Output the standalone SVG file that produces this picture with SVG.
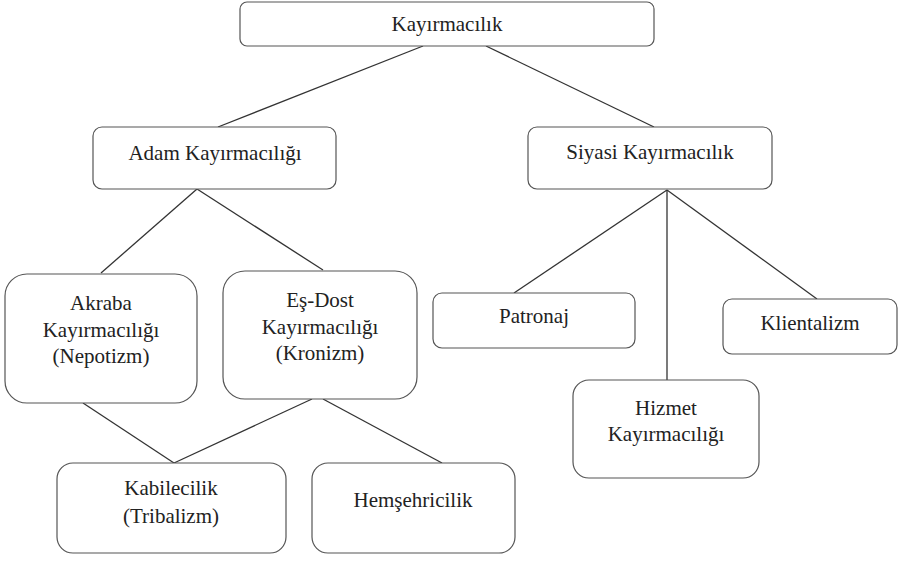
<svg xmlns="http://www.w3.org/2000/svg" width="898" height="561" viewBox="0 0 898 561">
<style>
.box{fill:#fff;stroke:#555;stroke-width:1.2}
.c line{stroke:#333;stroke-width:1.3}
</style>
<rect width="898" height="561" fill="#fff"/>
<g class="c" id="connectors">
<line x1="423" y1="46" x2="218" y2="127"/>
<line x1="486" y1="46" x2="654" y2="127"/>
<line x1="197" y1="189" x2="101" y2="273"/>
<line x1="197" y1="189" x2="323" y2="270"/>
<line x1="83" y1="403" x2="174" y2="463"/>
<line x1="312" y1="399" x2="174" y2="463"/>
<line x1="323" y1="399" x2="442" y2="463"/>
<line x1="667" y1="190" x2="514" y2="293"/>
<line x1="667" y1="190" x2="667" y2="380"/>
<line x1="667" y1="190" x2="817" y2="299"/>
</g>
<g font-family="Liberation Serif, DejaVu Serif, serif" font-size="21" fill="#222" text-anchor="middle">
<g id="kayirmacilik"><rect class="box" x="240" y="2" width="414" height="44" rx="7"/><text x="447" y="31">Kayırmacılık</text></g>
<g id="adam"><rect class="box" x="93" y="127" width="243" height="62" rx="9"/><text x="215" y="160">Adam Kayırmacılığı</text></g>
<g id="siyasi"><rect class="box" x="528" y="127" width="244" height="62" rx="9"/><text x="650" y="159">Siyasi Kayırmacılık</text></g>
<g id="akraba"><rect class="box" x="5" y="274" width="192" height="129" rx="22"/><text x="101" y="310">Akraba</text><text x="101" y="337">Kayırmacılığı</text><text x="101" y="363">(Nepotizm)</text></g>
<g id="esdost"><rect class="box" x="223" y="271" width="194" height="128" rx="22"/><text x="320" y="307">Eş-Dost</text><text x="320" y="334">Kayırmacılığı</text><text x="320" y="360">(Kronizm)</text></g>
<g id="kabilecilik"><rect class="box" x="57" y="463" width="229" height="90" rx="16"/><text x="171" y="495">Kabilecilik</text><text x="171" y="523">(Tribalizm)</text></g>
<g id="hemsehricilik"><rect class="box" x="312" y="463" width="203" height="90" rx="16"/><text x="413" y="507">Hemşehricilik</text></g>
<g id="patronaj"><rect class="box" x="433" y="293" width="202" height="55" rx="9"/><text x="534" y="323">Patronaj</text></g>
<g id="hizmet"><rect class="box" x="573" y="380" width="186" height="98" rx="16"/><text x="666" y="415">Hizmet</text><text x="666" y="441">Kayırmacılığı</text></g>
<g id="klientalizm"><rect class="box" x="723" y="299" width="174" height="55" rx="9"/><text x="810" y="330">Klientalizm</text></g>
</g>
</svg>
